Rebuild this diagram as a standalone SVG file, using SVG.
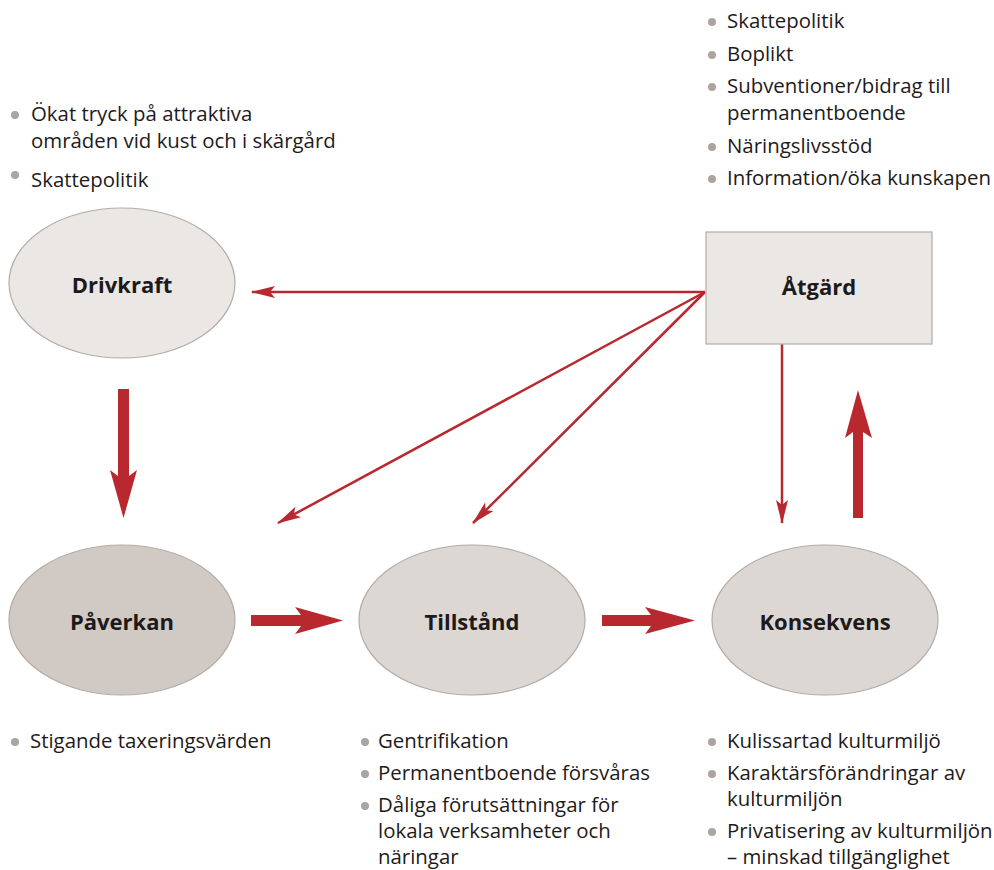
<svg xmlns="http://www.w3.org/2000/svg" width="994" height="870" viewBox="0 0 994 870">
<style>
  .node-light { fill: #ebe7e4; stroke: #b3aca6; stroke-width: 1.2; }
  .node-mid { fill: #dcd7d3; stroke: #b3aca6; stroke-width: 1.2; }
  .node-dark { fill: #d0c9c4; stroke: #b3aca6; stroke-width: 1.2; }
  .label { font-family: "Open Sans", "Noto Sans", "DejaVu Sans", sans-serif; font-weight: 700; font-size: 22px; fill: #1e1a1b; text-anchor: middle; }
  .txt { font-family: "Open Sans", "Noto Sans", "DejaVu Sans", sans-serif; font-size: 20.4px; fill: #1e1a1b; }
  .bullet { fill: #aca49e; }
  .thin { stroke: #b8282e; stroke-width: 2.5; fill: none; marker-end: url(#head); }
  .thick { fill: #b8282e; }
</style>
<defs>
  <marker id="head" markerUnits="userSpaceOnUse" viewBox="0 0 24 12" markerWidth="24" markerHeight="12" refX="23" refY="6" orient="auto">
    <path d="M0,0 L24,6 L0,12 L5,6 Z" fill="#b8282e"/>
  </marker>
  <circle id="dot" r="4" class="bullet"/>
</defs>

<rect width="994" height="870" fill="#ffffff"/>

<g id="connectors">
  <line class="thin" x1="705" y1="292" x2="252" y2="292"/>
  <line class="thin" x1="705" y1="292" x2="278" y2="523"/>
  <line class="thin" x1="705" y1="292" x2="473" y2="523"/>
  <line class="thin" x1="782" y1="344" x2="782" y2="523"/>
  <path class="thick" d="M118,389 L129,389 L129,476 L137,470 L123.5,518 L110,470 L118,476 Z"/>
  <path class="thick" d="M853,518 L863,518 L863,432 L872,438 L858,390 L845,438 L853,432 Z"/>
  <path class="thick" d="M251,615 L301,615 L295,607 L343,620.5 L295,634 L301,626 L251,626 Z"/>
  <path class="thick" d="M602,615 L651,615 L645,607 L695,620.5 L645,634 L651,626 L602,626 Z"/>
</g>

<g id="drivkraft">
  <ellipse class="node-light" cx="122" cy="283" rx="113" ry="75"/>
  <text class="label" x="122" y="293">Drivkraft</text>
</g>
<g id="atgard">
  <rect class="node-light" x="706" y="232" width="226" height="112"/>
  <text class="label" x="819" y="295">Åtgärd</text>
</g>
<g id="paverkan">
  <ellipse class="node-dark" cx="122" cy="620" rx="113" ry="75"/>
  <text class="label" x="122" y="630">Påverkan</text>
</g>
<g id="tillstand">
  <ellipse class="node-mid" cx="472" cy="620" rx="113" ry="75"/>
  <text class="label" x="472" y="630">Tillstånd</text>
</g>
<g id="konsekvens">
  <ellipse class="node-mid" cx="825" cy="620" rx="113" ry="75"/>
  <text class="label" x="825" y="630">Konsekvens</text>
</g>

<g id="list-drivkraft">
  <use href="#dot" x="15" y="115"/>
  <text class="txt" x="31" y="121">Ökat tryck på attraktiva</text>
  <text class="txt" x="31" y="148">områden vid kust och i skärgård</text>
  <use href="#dot" x="15" y="175"/>
  <text class="txt" x="31" y="187">Skattepolitik</text>
</g>

<g id="list-atgard">
  <use href="#dot" x="712" y="22"/>
  <text class="txt" x="727" y="28">Skattepolitik</text>
  <use href="#dot" x="712" y="55"/>
  <text class="txt" x="727" y="61">Boplikt</text>
  <use href="#dot" x="712" y="87"/>
  <text class="txt" x="727" y="93">Subventioner/bidrag till</text>
  <text class="txt" x="727" y="120">permanentboende</text>
  <use href="#dot" x="712" y="147"/>
  <text class="txt" x="727" y="153">Näringslivsstöd</text>
  <use href="#dot" x="712" y="179"/>
  <text class="txt" x="727" y="185">Information/öka kunskapen</text>
</g>

<g id="list-paverkan">
  <use href="#dot" x="15" y="742"/>
  <text class="txt" x="30" y="748">Stigande taxeringsvärden</text>
</g>

<g id="list-tillstand">
  <use href="#dot" x="365" y="742"/>
  <text class="txt" x="378" y="748">Gentrifikation</text>
  <use href="#dot" x="365" y="774"/>
  <text class="txt" x="378" y="780">Permanentboende försvåras</text>
  <use href="#dot" x="365" y="806"/>
  <text class="txt" x="378" y="812">Dåliga förutsättningar för</text>
  <text class="txt" x="378" y="838">lokala verksamheter och</text>
  <text class="txt" x="378" y="864">näringar</text>
</g>

<g id="list-konsekvens">
  <use href="#dot" x="712" y="742"/>
  <text class="txt" x="727" y="748">Kulissartad kulturmiljö</text>
  <use href="#dot" x="712" y="774"/>
  <text class="txt" x="727" y="780">Karaktärsförändringar av</text>
  <text class="txt" x="727" y="806">kulturmiljön</text>
  <use href="#dot" x="712" y="832"/>
  <text class="txt" x="727" y="838">Privatisering av kulturmiljön</text>
  <text class="txt" x="727" y="864">– minskad tillgänglighet</text>
</g>
</svg>
